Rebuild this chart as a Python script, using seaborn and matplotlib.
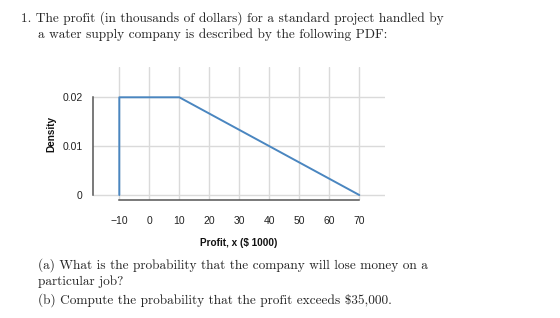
import matplotlib
matplotlib.use("Agg")
import matplotlib.pyplot as plt
import seaborn as sns
import pandas as pd

# ---- data ----
profit_x = [-10, -10, 10, 70]
density_y = [0.0, 0.02, 0.02, 0.0]
x_ticks = [-10, 0, 10, 20, 30, 40, 50, 60, 70]
y_ticks = [0.0, 0.01, 0.02]
y_tick_labels = ["0", "0.01", "0.02"]
x_tick_labels = ["\u221210", "0", "10", "20", "30", "40", "50", "60", "70"]

title_lines = [
    "1. The profit (in thousands of dollars) for a standard project handled by",
    "a water supply company is described by the following PDF:",
]
question_lines = [
    "(a) What is the probability that the company will lose money on a",
    "particular job?",
    r"(b) Compute the probability that the profit exceeds \$35,000.",
]

sns.set_theme(style="white")
plt.rcParams["font.family"] = ["Liberation Sans", "DejaVu Sans"]

fig = plt.figure(figsize=(5.6, 3.18), dpi=100)
W, H = 560, 318
ax_l, ax_r, ax_t, ax_b = 93, 385, 67, 200
ax = fig.add_axes([ax_l / W, 1 - ax_b / H, (ax_r - ax_l) / W, (ax_b - ax_t) / H])

df = pd.DataFrame({"x": profit_x, "y": density_y})
sns.lineplot(data=df, x="x", y="y", sort=False, estimator=None, ax=ax,
             color="#4a86c0", linewidth=1.4, zorder=3)

ax.set_xlim(-18.77, 78.57)
ax.set_ylim(-0.00102, 0.0262)
ax.set_xticks(x_ticks)
ax.set_xticklabels(x_tick_labels)
ax.set_yticks(y_ticks)
ax.set_yticklabels(y_tick_labels)
ax.grid(True, color="#dadada", linewidth=1.0, zorder=0)
ax.set_axisbelow(True)

ax.tick_params(axis="x", labelsize=7.5, pad=11.5, length=0, colors="#222222")
ax.tick_params(axis="y", labelsize=7.5, pad=7.5, length=0, colors="#222222")

ax.set_xlabel("Profit, x (\\$ 1000)", fontsize=7.2, fontweight="bold", color="#111111", va="center")
ax.xaxis.set_label_coords(0.5, (ax_b - 243) / (ax_b - ax_t))
ax.set_ylabel("Density", fontsize=7.2, fontweight="bold", color="#111111", va="center")
ax.yaxis.set_label_coords((51 - ax_l) / (ax_r - ax_l), (ax_b - 134) / (ax_b - ax_t))

for side in ["top", "right"]:
    ax.spines[side].set_visible(False)
ax.spines["left"].set_bounds(0, 0.02)
ax.spines["bottom"].set_bounds(-10, 70)
for side in ["left", "bottom"]:
    ax.spines[side].set_color("#555555")
    ax.spines[side].set_linewidth(1.1)

serif = ["cmr10", "DejaVu Serif"]
fs = 9.6
fig.text(21 / W, 1 - 18 / H, title_lines[0], family=serif, fontsize=fs, va="center", ha="left")
fig.text(38 / W, 1 - 35 / H, title_lines[1], family=serif, fontsize=fs, va="center", ha="left")
fig.text(38 / W, 1 - 265 / H, question_lines[0], family=serif, fontsize=fs, va="center", ha="left")
fig.text(38 / W, 1 - 282 / H, question_lines[1], family=serif, fontsize=fs, va="center", ha="left")
fig.text(38 / W, 1 - 300 / H, question_lines[2], family=serif, fontsize=fs, va="center", ha="left")

fig.savefig("out.png", dpi=100, facecolor="white")
